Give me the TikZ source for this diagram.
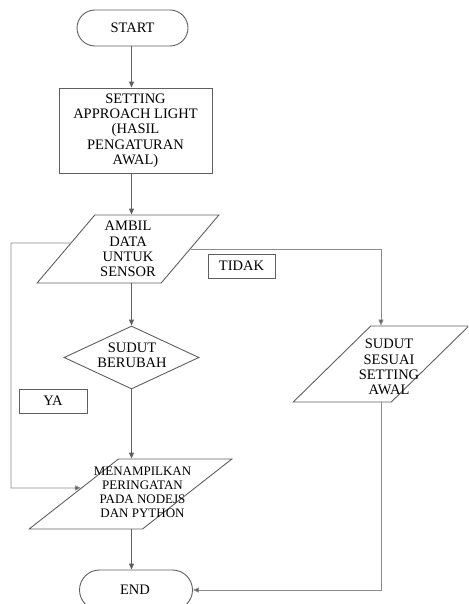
\documentclass[tikz,border=0pt]{standalone}
\usepackage{fontspec}
\setmainfont{Liberation Serif}
\usetikzlibrary{shapes.geometric,shapes.misc,arrows.meta,calc}
\definecolor{lc}{RGB}{95,95,95}
\definecolor{lcl}{RGB}{140,140,140}
\begin{document}
\begin{tikzpicture}[x=1pt,y=-1pt,
  every node/.style={font=\fontsize{14.5}{15.3}\selectfont, align=center, inner sep=0pt},
  shp/.style={draw=lc, line width=0.9pt, inner sep=2pt},
  term/.style={shp, rounded rectangle, minimum height=36pt},
  procbox/.style={shp, rectangle},
  para/.style={shp, trapezium, trapezium stretches=true},
  decis/.style={shp, diamond},
  lbl/.style={draw=lc, line width=0.8pt, rectangle, minimum width=67pt, minimum height=24pt},
  flow/.style={draw=lc, line width=1.1pt, -{Triangle[length=6pt,width=5pt]}},
  thinarrow/.style={draw=lcl, line width=0.7pt, -{Triangle[length=6pt,width=5pt,fill=lc]}}
]
\useasboundingbox (0,0) rectangle (468,604);
\clip (0,0) rectangle (468,604);

\node[term, minimum width=115pt] (start) at (132.5,28) {START};
\node[procbox, minimum width=153pt, minimum height=85pt] (setting) at (135.5,130.5)
  {SETTING\\APPROACH LIGHT\\(HASIL\\PENGATURAN\\AWAL)};
\node[para, trapezium left angle=49, trapezium right angle=131,
  minimum width=182pt, minimum height=68pt] (ambil) at (128,249)
  {AMBIL\\DATA\\UNTUK\\SENSOR};
\node[decis, minimum width=135pt, minimum height=63pt] (sudut) at (131.5,357.5) {\strut};
\node (sudutText) at (132,355) {SUDUT\\BERUBAH};
\node[para, trapezium left angle=52.4, trapezium right angle=127.6,
  minimum width=203pt, minimum height=70pt] (men) at (130.5,494) {\strut};
\node[font=\fontsize{13}{14}\selectfont] (menText) at (142.5,492.5)
  {MENAMPILKAN\\PERINGATAN\\PADA NODEJS\\DAN PYTHON};
\node[term, minimum width=117pt, minimum height=40pt] (end) at (136,590) {\strut};
\node (endText) at (135,590) {END};
\node[para, trapezium left angle=52, trapezium right angle=128,
  minimum width=176pt, minimum height=76pt] (ses) at (381,364) {\strut};
\node (sesText) at (389,367) {SUDUT\\SESUAI\\SETTING\\AWAL};
\node[lbl] (tidak) at (241.5,266) {TIDAK};
\node[lbl, minimum width=68pt] (ya) at (53,401) {YA};

% main flow (vertical column at x = 131.5)
\draw[flow] (start.south -| sudut.north) -- (setting.north -| sudut.north);
\draw[flow] (setting.south -| sudut.north) -- (ambil.north -| sudut.north);
\draw[flow] (ambil.south -| sudut.north) -- (sudut.north);
\draw[flow] (sudut.south) -- (sudut.south |- men.north);
\draw[flow] (men.south -| sudut.south) -- (end.north -| sudut.south);

% branch to the left (YA)
\coordinate (aL) at ($(ambil.bottom left corner)!0.588!(ambil.top left corner)$);
\coordinate (mL) at ($(men.bottom left corner)!0.586!(men.top left corner)$);
\coordinate (loopL) at (11,488);
\draw[thinarrow] (aL) -| (loopL) -- (mL);

% branch to the right (TIDAK)
\coordinate (aR) at ($(ambil.bottom right corner)!0.5!(ambil.top right corner)$);
\draw[thinarrow] (aR) -| (ses.north);
\draw[thinarrow] (ses.south) |- (end.east);
\end{tikzpicture}
\end{document}
